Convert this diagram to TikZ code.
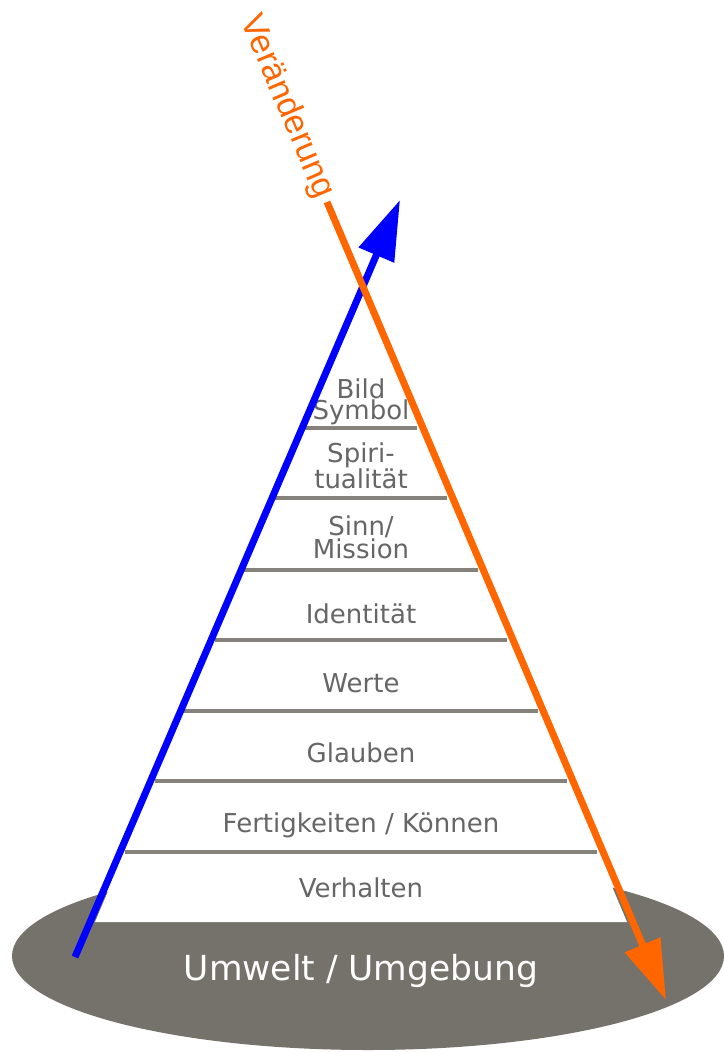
\documentclass[tikz,border=0pt]{standalone}
\usepackage{fontspec}
\setmainfont{DejaVu Sans}
\newfontfamily\arialf{Liberation Sans}
\usetikzlibrary{arrows.meta}
\definecolor{groundgray}{HTML}{75716B}
\definecolor{sepgray}{HTML}{85817B}
\definecolor{labelgray}{HTML}{666666}
\definecolor{vorange}{HTML}{FF6600}
\definecolor{vblue}{HTML}{0000FF}
\begin{document}
\begin{tikzpicture}[x=1pt,y=-1pt,
  layer/.style={text=labelgray, font=\fontsize{26}{19.5}\selectfont, align=center, inner sep=0pt},
  sep/.style={draw=sepgray, line width=3.5pt},
  bluearrow/.style={draw=vblue, line width=7pt, -{Triangle[length=60pt,width=37pt]}},
  orangearrow/.style={draw=vorange, line width=7pt, -{Triangle[length=60pt,width=37pt]}},
  groundtext/.style={text=white, font=\fontsize{34.5}{40}\selectfont, inner sep=0pt},
  change/.style={text=vorange, font=\arialf\fontsize{34}{40}\selectfont, rotate=-67, inner sep=0pt}
]
\useasboundingbox (0,0) rectangle (723,1052);
% ground ellipse
\fill[groundgray] (368,956) ellipse [x radius=356pt, y radius=94pt];
% pyramid
\coordinate (apex) at (361,295);
\coordinate (bl) at (95,922);
\coordinate (br) at (627,922);
\fill[white] (apex) -- (bl) -- (br) -- cycle;
\foreach \yy in {428,498,570,640,711,781,852}
  \draw[sep] ({361-(\yy-295)*0.4243},\yy) -- ({361+(\yy-295)*0.4243},\yy);
% labels
\node[layer] (bild) at (361,401.5) {Bild\\Symbol};
\node[layer] (spiri) at (361,465.5) {Spiri-\\tualität};
\node[layer] (sinn) at (361,537.5) {Sinn/\\Mission};
\node[layer, anchor=base] (ident) at (361,623) {Identität};
\node[layer, anchor=base] (werte) at (361,692) {Werte};
\node[layer, anchor=base] (glauben) at (361,762) {Glauben};
\node[layer, anchor=base] (fertig) at (361,832) {Fertigkeiten / Können};
\node[layer, anchor=base] (verh) at (361,897) {Verhalten};
\node[groundtext, anchor=base] (umwelt) at (361,980) {Umwelt / Umgebung};
% arrows
\coordinate (b0) at (75,957);
\coordinate (b1) at (400,200);
\draw[bluearrow] (b0) -- (b1);
\coordinate (o0) at (327,202);
\coordinate (o1) at (666,1000);
\draw[orangearrow] (o0) -- (o1);
\node[change] (ver) at (286.7,107) {Veränderung};
\end{tikzpicture}
\end{document}
